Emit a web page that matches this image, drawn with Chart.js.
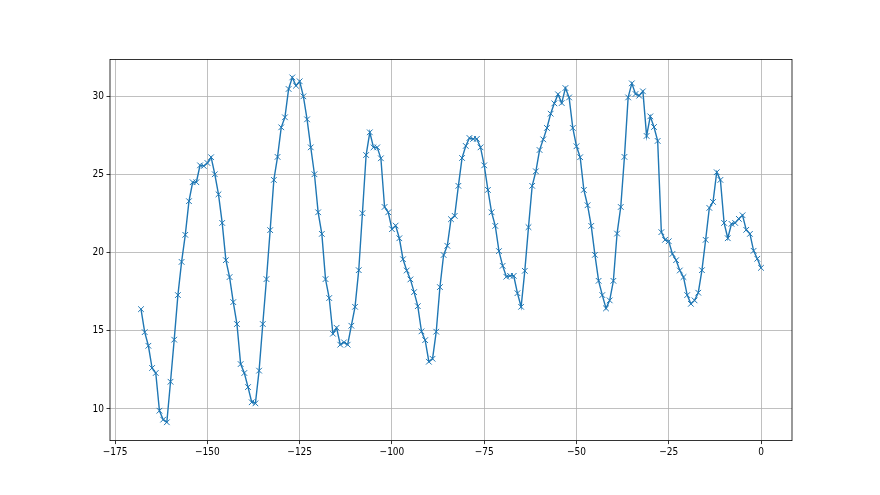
<!DOCTYPE html>
<html>
<head>
<meta charset="utf-8">
<script src="https://cdn.jsdelivr.net/npm/chart.js@4.4.1/dist/chart.umd.min.js"></script>
<style>
  html, body { margin: 0; padding: 0; background: #fff; }
  #wrap { width: 880px; height: 495px; }
</style>
</head>
<body>
<div id="wrap"><canvas id="chart" width="880" height="495"></canvas></div>
<script>
// x positions (one sample per unit)
const xValues = [
  -168, -167, -166, -165, -164, -163, -162, -161, -160, -159, -158, -157, -156, -155, -154, -153,
  -152, -151, -150, -149, -148, -147, -146, -145, -144, -143, -142, -141, -140, -139, -138, -137,
  -136, -135, -134, -133, -132, -131, -130, -129, -128, -127, -126, -125, -124, -123, -122, -121,
  -120, -119, -118, -117, -116, -115, -114, -113, -112, -111, -110, -109, -108, -107, -106, -105,
  -104, -103, -102, -101, -100, -99, -98, -97, -96, -95, -94, -93, -92, -91, -90, -89,
  -88, -87, -86, -85, -84, -83, -82, -81, -80, -79, -78, -77, -76, -75, -74, -73,
  -72, -71, -70, -69, -68, -67, -66, -65, -64, -63, -62, -61, -60, -59, -58, -57,
  -56, -55, -54, -53, -52, -51, -50, -49, -48, -47, -46, -45, -44, -43, -42, -41,
  -40, -39, -38, -37, -36, -35, -34, -33, -32, -31, -30, -29, -28, -27, -26, -25,
  -24, -23, -22, -21, -20, -19, -18, -17, -16, -15, -14, -13, -12, -11, -10, -9,
  -8, -7, -6, -5, -4, -3, -2, -1, 0
];

const yValues = [
  16.38, 14.91, 14.04, 12.62, 12.30, 9.89, 9.32, 9.15, 11.74, 14.43, 17.28, 19.40, 21.13, 23.28, 24.49, 24.49,
  25.57, 25.53, 25.72, 26.09, 25.00, 23.72, 21.89, 19.51, 18.43, 16.83, 15.43, 12.87, 12.30, 11.40, 10.43, 10.36,
  12.45, 15.43, 18.30, 21.43, 24.64, 26.11, 28.00, 28.64, 30.45, 31.19, 30.66, 30.94, 29.98, 28.51, 26.72, 25.00,
  22.57, 21.19, 18.30, 17.09, 14.81, 15.19, 14.11, 14.26, 14.11, 15.32, 16.53, 18.87, 22.51, 26.23, 27.68, 26.72,
  26.72, 26.02, 22.91, 22.57, 21.49, 21.72, 20.91, 19.57, 18.85, 18.28, 17.47, 16.57, 14.96, 14.40, 13.02, 13.21,
  14.94, 17.79, 19.84, 20.43, 22.13, 22.34, 24.26, 26.04, 26.81, 27.32, 27.26, 27.26, 26.72, 25.57, 24.00, 22.57,
  21.70, 20.09, 19.15, 18.45, 18.51, 18.51, 17.40, 16.53, 18.83, 21.62, 24.26, 25.19, 26.55, 27.23, 27.96, 28.87,
  29.53, 30.11, 29.55, 30.51, 29.91, 27.96, 26.79, 26.09, 24.00, 23.02, 21.70, 19.85, 18.19, 17.28, 16.43, 16.94,
  18.19, 21.21, 22.91, 26.11, 29.91, 30.81, 30.13, 30.02, 30.30, 27.45, 28.70, 28.02, 27.13, 21.30, 20.81, 20.72,
  19.91, 19.51, 18.85, 18.43, 17.28, 16.72, 16.94, 17.43, 18.87, 20.81, 22.85, 23.23, 25.13, 24.64, 21.89, 20.91,
  21.83, 21.89, 22.15, 22.38, 21.45, 21.19, 20.11, 19.60, 19.02
];

const xTicks = [-175, -150, -125, -100, -75, -50, -25, 0];
const yTicks = [10, 15, 20, 25, 30];

const fontFamily = "'DejaVu Sans Condensed', 'Liberation Sans Narrow', 'DejaVu Sans', sans-serif";
const fmt = v => (v < 0 ? '\u2212' + Math.abs(v) : String(v));

// frame (all four spines), like matplotlib
const framePlugin = {
  id: 'frame',
  afterDraw(chart) {
    const { ctx, chartArea: a } = chart;
    ctx.save();
    ctx.strokeStyle = '#000';
    ctx.lineWidth = 0.8;
    ctx.strokeRect(a.left, a.top, a.right - a.left, a.bottom - a.top);
    ctx.restore();
  }
};

const points = xValues.map((x, i) => ({ x, y: yValues[i] }));

new Chart(document.getElementById('chart'), {
  type: 'line',
  data: {
    datasets: [{
      data: points,
      borderColor: '#1f77b4',
      borderWidth: 1.4,
      tension: 0,
      fill: false,
      pointStyle: 'crossRot',
      pointRadius: 4,
      pointBorderColor: '#1f77b4',
      pointBorderWidth: 1,
      pointBackgroundColor: '#1f77b4'
    }]
  },
  options: {
    responsive: false,
    animation: false,
    layout: { padding: { top: 59.4, right: 88, left: 0, bottom: 0 } },
    plugins: { legend: { display: false }, tooltip: { enabled: false } },
    scales: {
      x: {
        type: 'linear',
        min: -176.4,
        max: 8.4,
        afterFit: s => { s.height = 54.4; },
        afterBuildTicks: s => { s.ticks = xTicks.map(v => ({ value: v })); },
        grid: { color: '#b0b0b0', lineWidth: 0.8, tickColor: '#000', tickLength: 3.5, tickWidth: 0.8 },
        border: { display: false },
        ticks: {
          autoSkip: false, maxRotation: 0, minRotation: 0, padding: 2,
          color: '#000', font: { family: fontFamily, size: 10 },
          callback: v => fmt(v)
        }
      },
      y: {
        type: 'linear',
        min: 7.98,
        max: 32.34,
        afterFit: s => { s.width = 110; },
        afterBuildTicks: s => { s.ticks = yTicks.map(v => ({ value: v })); },
        grid: { color: '#b0b0b0', lineWidth: 0.8, tickColor: '#000', tickLength: 3.5, tickWidth: 0.8 },
        border: { display: false },
        ticks: {
          autoSkip: false, padding: 2.5,
          color: '#000', font: { family: fontFamily, size: 10 },
          callback: v => fmt(v)
        }
      }
    }
  },
  plugins: [framePlugin]
});
</script>
</body>
</html>
